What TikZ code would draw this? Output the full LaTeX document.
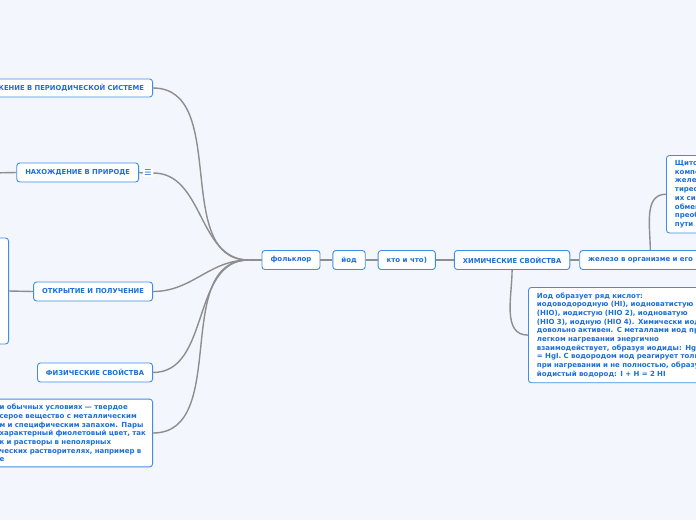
\documentclass[tikz,border=0pt]{standalone}
\usepackage{fontspec}
\newfontfamily\mapfont{DejaVu Sans}
\usetikzlibrary{positioning}
\definecolor{iodBack}{HTML}{F3F6FD}
\definecolor{iodBlue}{HTML}{1C6FD6}
\definecolor{iodEdge}{HTML}{3C8EE8}
\definecolor{iodLine}{HTML}{8E8E8E}
\tikzset{
  iod topic/.style={draw=iodEdge, fill=white, rounded corners=3pt, line width=0.9pt, minimum height=19pt, inner xsep=8.5pt, inner ysep=2pt, font=\mapfont\bfseries\fontsize{6.8}{8}\selectfont, text=iodBlue},
  iod word/.style={iod topic, font=\mapfont\bfseries\fontsize{7}{8.7}\selectfont},
  iod note/.style={iod word, align=left, inner ysep=5pt},
  iod link/.style={draw=iodLine, line width=1.4pt},
  iod icon/.style={fill=white, text=iodBlue, inner sep=1.5pt, font=\mapfont\fontsize{8}{8}\selectfont},
}
\begin{document}
\begin{tikzpicture}[x=1pt,y=-1pt]
  \useasboundingbox (0,0) rectangle (696,520);
  \clip (0,0) rectangle (696,520);
  \fill[iodBack] (0,0) rectangle (696,520);

  % Central chain
  \node[iod word] (folk) at (291,260) {фольклор};
  \node[iod word, right=12pt of folk] (yod) {йод};
  \node[iod word, right=12pt of yod] (kto) {кто и что)};
  \node[iod topic, right=18pt of kto] (chem) {ХИМИЧЕСКИЕ СВОЙСТВА};
  \node[iod word, right=9pt of chem, text width=150pt, align=left] (iron) {железо в организме и его};

  % Left branches
  \node[iod topic, anchor=east, minimum height=18pt] (periodic) at (153,88) {ЖЕНИЕ В ПЕРИОДИЧЕСКОЙ СИСТЕМЕ};
  \node[iod topic, anchor=east] (priroda) at (139,172.5) {НАХОЖДЕНИЕ В ПРИРОДЕ};
  \node[iod icon] (icon) at (148,173) {☰};
  \node[iod topic, anchor=east] (otkr) at (153,291.5) {ОТКРЫТИЕ И ПОЛУЧЕНИЕ};
  \node[iod topic, anchor=east] (fiz) at (153,372.5) {ФИЗИЧЕСКИЕ СВОЙСТВА};
  \node[iod note, anchor=east, text width=148pt, inner xsep=5pt] (fizbody) at (153,433)
    {и обычных условиях — твердое\\серое вещество с металлическим\\м и специфическим запахом. Пары\\характерный фиолетовый цвет, так\\к и растворы в неполярных\\ческих растворителях, например в\\е};
  \node[iod topic, anchor=east, minimum width=120pt, minimum height=106pt] (hidden) at (9,291) {};
  \coordinate (offleft) at (-10,173);

  % Right notes
  \node[iod note, anchor=north west, text width=120pt] (gland) at (666,155)
    {Щито\\компо\\желе\\тирео\\их си\\обмен\\преоб\\пути};
  \node[iod note, anchor=north west, text width=240pt] (acids) at (528,287)
    {Иод образует ряд кислот:\\иодоводородную (HI), иодноватистую\\(HIO), иодистую (HIO 2), иодноватую\\(HIO 3), иодную (HIO 4). Химически иод\\довольно активен. С металлами иод при\\легком нагревании энергично\\взаимодействует, образуя иодиды: Hg + I\\= HgI. С водородом иод реагирует только\\при нагревании и не полностью, образуя\\йодистый водород: I + H = 2 HI};

  % Connectors
  \coordinate (hub) at ([xshift=-13pt]folk.west);
  \draw[iod link] (folk.west) -- (hub);
  \foreach \n in {periodic,icon,otkr,fiz,fizbody}
    \draw[iod link] (hub) to[out=180,in=0] (\n.east);
  \draw[iod link] (priroda.east) -- (icon.west);
  \draw[iod link] (offleft) -- (priroda.west);
  \draw[iod link] (hidden.east) -- (otkr.west);
  \draw[iod link] (folk) -- (yod);
  \draw[iod link] (yod) -- (kto);
  \draw[iod link] (kto) -- (chem);
  \draw[iod link] (chem) -- (iron);
  \draw[iod link] (chem.south) to[out=-90,in=180] (acids.west);
  \draw[iod link] ([xshift=71pt]iron.north west) to[out=90,in=180] (gland.west);
\end{tikzpicture}
\end{document}
